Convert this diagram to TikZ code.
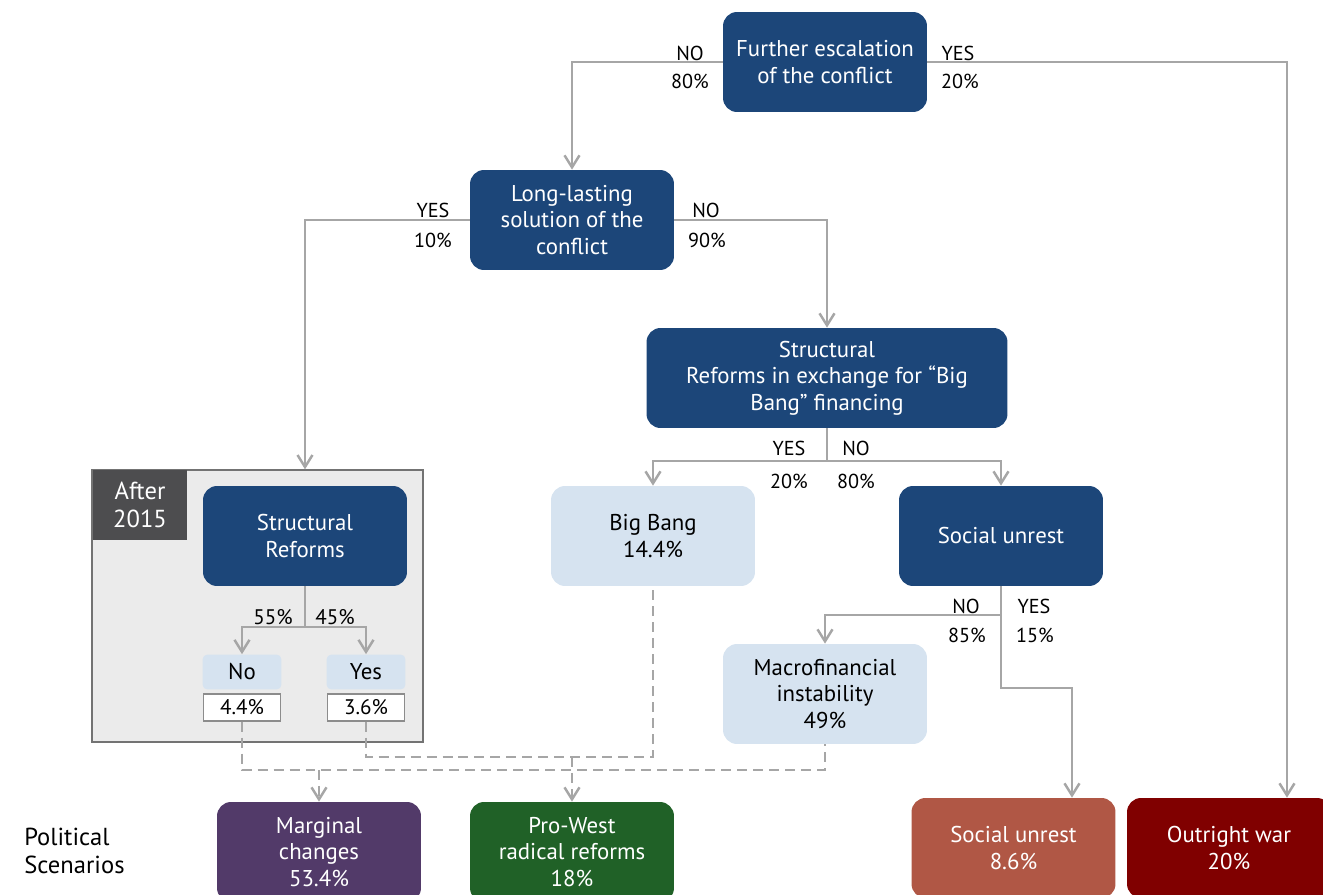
\documentclass[tikz,border=0pt]{standalone}
\usepackage{fontspec}
\setmainfont{PT Sans}
\usetikzlibrary{arrows.meta}

\definecolor{navy}{HTML}{1C4679}
\definecolor{paleblue}{HTML}{D6E3F0}
\definecolor{linegray}{HTML}{A6A6A6}
\definecolor{panelgray}{HTML}{EBEBEB}
\definecolor{tabgray}{HTML}{4D4D4F}
\definecolor{margpurple}{HTML}{523A69}
\definecolor{progreen}{HTML}{206127}
\definecolor{unrestred}{HTML}{B05745}
\definecolor{warred}{HTML}{800000}

\begin{document}
\begin{tikzpicture}[x=0.02cm,y=-0.02cm,
  box/.style={rounded corners=0.28cm, minimum width=4.08cm, minimum height=2cm,
    align=center, inner sep=2pt, font=\fontsize{13}{15}\selectfont},
  darkbox/.style={box, fill=navy, text=white},
  lightbox/.style={box, fill=paleblue, text=black},
  scenbox/.style={box, text=white},
  lbl/.style={font=\fontsize{11.5}{13}\selectfont, text=black, inner sep=0pt},
  link/.style={draw=linegray, line width=1.4pt,
    -{Straight Barb[length=0.24cm,width=0.3cm,line width=1.4pt]}},
  plain/.style={draw=linegray, line width=1.4pt},
  dlink/.style={draw=linegray, line width=1.4pt, dash pattern=on 0.2cm off 0.12cm}]

% frame
\useasboundingbox (0,0) rectangle (1323,895);

% after 2015 panel
\node [draw=black!55, fill=panelgray, line width=0.8pt, minimum width=6.62cm,
  minimum height=5.44cm, inner sep=0pt] (after) at (257.5,606) {};
\node [fill=tabgray, text=white, minimum width=1.9cm, minimum height=1.4cm, align=center,
  inner sep=0pt, font=\fontsize{14}{15.5}\selectfont] (tab) at (140,505) {After\\2015};

% decision boxes
\node [darkbox] (esc) at (825,62) {Further escalation\\of the conflict};
\node [darkbox] (sol) at (572,220) {Long-lasting\\solution of the\\conflict};
\node [darkbox, minimum width=7.22cm] (bigbang) at (827,378)
  {Structural\\Reforms in exchange for “Big\\Bang” financing};
\node [lightbox] (bang) at (653,536) {Big Bang\\14.4\%};
\node [darkbox] (unrest) at (1001,536) {Social unrest};
\node [lightbox] (macro) at (825,694) {Macrofinancial\\instability\\49\%};
\node [darkbox] (sr) at (305,536) {Structural\\Reforms};

% small outcome boxes
\node [fill=paleblue, rounded corners=0.1cm, minimum width=1.58cm, minimum height=0.7cm,
  inner sep=0pt, font=\fontsize{13}{15}\selectfont] (no) at (242,672) {No};
\node [fill=paleblue, rounded corners=0.1cm, minimum width=1.58cm, minimum height=0.7cm,
  inner sep=0pt, font=\fontsize{13}{15}\selectfont] (yes) at (366,672) {Yes};
\node [draw=black!45, fill=white, line width=0.6pt, minimum width=1.54cm, minimum height=0.54cm,
  inner sep=0pt, font=\fontsize{12}{14}\selectfont] (pno) at (242,707.5) {4.4\%};
\node [draw=black!45, fill=white, line width=0.6pt, minimum width=1.54cm, minimum height=0.54cm,
  inner sep=0pt, font=\fontsize{12}{14}\selectfont] (pyes) at (366,707.5) {3.6\%};

% scenarios
\node [scenbox, fill=margpurple] (marg) at (319,852) {Marginal\\changes\\53.4\%};
\node [scenbox, fill=progreen] (pro) at (572,852) {Pro-West\\radical reforms\\18\%};
\node [scenbox, fill=unrestred] (soc) at (1013.5,848) {Social unrest\\8.6\%};
\node [scenbox, fill=warred] (war) at (1229,848) {Outright war\\20\%};
\node [align=left, anchor=west, inner sep=0pt, font=\fontsize{14}{15.5}\selectfont]
  (pol) at (24,851) {Political\\Scenarios};

% branch points
\coordinate (bsplit) at (827,461);
\coordinate (usplit) at (1001,615);
\coordinate (ubend) at (1001,688);
\coordinate (ssplit) at (305,627);
\coordinate (jlow) at (242,770);
\coordinate (jhigh) at (366,757);

% solid connectors
\draw [link] (esc.west) -| (sol.north);
\draw [link] (esc.east) -| ([xshift=1.16cm]war.north);
\draw [link] (sol.west) -| (sr.north |- after.north);
\draw [link] (sol.east) -| (bigbang.north);
\draw [plain] (bigbang.south) -- (bsplit);
\draw [link] (bsplit) -| (bang.north);
\draw [link] (bsplit) -| (unrest.north);
\draw [plain] (unrest.south) -- (usplit);
\draw [link] (usplit) -| (macro.north);
\draw [link] (usplit) -- (ubend) -| ([xshift=1.17cm]soc.north);
\draw [plain] (sr.south) -- (ssplit);
\draw [link] (ssplit) -| (no.north);
\draw [link] (ssplit) -| (yes.north);

% dashed connectors
\draw [dlink] (pno.south) -- (jlow) -| (macro.south);
\draw [dlink] (pyes.south) -- (jhigh) -| (bang.south);
\draw [dlink, -{Straight Barb[length=0.24cm,width=0.3cm,line width=1.4pt]}]
  (marg.north |- jlow) -- (marg.north);
\draw [dlink, -{Straight Barb[length=0.24cm,width=0.3cm,line width=1.4pt]}]
  (pro.north |- jhigh) -- (pro.north);

% branch labels
\node [lbl] (eno) at (690,53) {NO};
\node [lbl] (enop) at (690,81) {80\%};
\node [lbl] (eyes) at (958,53) {YES};
\node [lbl] (eyesp) at (960,81) {20\%};
\node [lbl] (syes) at (433,210) {YES};
\node [lbl] (syesp) at (433,240) {10\%};
\node [lbl] (sno) at (706,210) {NO};
\node [lbl] (snop) at (707,240) {90\%};
\node [lbl] (byes) at (789,448) {YES};
\node [lbl] (byesp) at (789,481) {20\%};
\node [lbl] (bno) at (856,448) {NO};
\node [lbl] (bnop) at (856,481) {80\%};
\node [lbl] (uno) at (966,606) {NO};
\node [lbl] (unop) at (967,635) {85\%};
\node [lbl] (uyes) at (1034,606) {YES};
\node [lbl] (uyesp) at (1035,635) {15\%};
\node [lbl, font=\fontsize{12}{14}\selectfont] (rno) at (273,617) {55\%};
\node [lbl, font=\fontsize{12}{14}\selectfont] (ryes) at (335,617) {45\%};
\end{tikzpicture}
\end{document}
